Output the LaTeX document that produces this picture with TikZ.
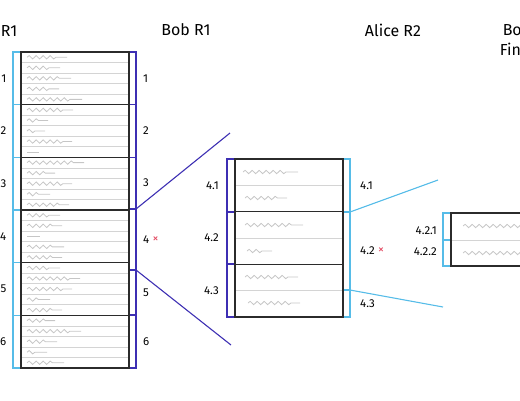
\documentclass[tikz,border=0pt]{standalone}
\usepackage{fontspec}
\setmainfont{Fira Sans}
\usetikzlibrary{positioning, decorations.pathmorphing}

\definecolor{alicecol}{HTML}{56BCE8}
\definecolor{bobcol}{HTML}{3D2FB3}
\definecolor{inkcol}{HTML}{2B2B2B}
\definecolor{rulecol}{HTML}{D4D4D4}
\definecolor{scribcol}{HTML}{C6C6C6}
\definecolor{crosscol}{HTML}{E2475F}

\tikzset{
  chunkbox/.style={draw=inkcol, line width=1.15pt},
  subrule/.style={draw=rulecol, line width=0.7pt},
  scribble/.style={draw=scribcol, line width=0.8pt, decorate,
    decoration={snake, segment length=7bp, amplitude=1.7bp, post length=9bp}},
  alicebar/.style={draw=alicecol, line width=1.1pt},
  bobbar/.style={draw=bobcol, line width=1.1pt},
  title/.style={font=\fontsize{16}{20}\selectfont, inner sep=0pt},
  num/.style={font=\fontsize{11.5}{14}\selectfont, inner sep=0pt},
  cross/.style={text=crosscol, font=\fontsize{12}{14}\selectfont, inner sep=0pt},
}

\begin{document}
\begin{tikzpicture}[x=1bp, y=-1bp]
    \useasboundingbox (0,0) rectangle (520,400);
    \def\rh{52.67} % height of one chunk
    \def\sh{10.53} % height of one line inside a chunk
    \def\ax{21}    % left edge of the big stack
    \def\bx{129}   % right edge of the big stack
    \def\ty{52}    % top of the big stack
    \def\mx{235}   % left edge of chunk 4
    \def\nx{343}   % right edge of chunk 4
    \def\my{159}   % top of chunk 4

    % Titles
    \node[title, anchor=east] (aliceone) at (17.5,30) {Alice R1};
    \node[title] (bobone) at (186,30) {Bob R1};
    \node[title] (alicetwo) at (393,30) {Alice R2};
    \node[title, align=center] (bobfinal) at (517,40) {Bob\\Final};

    % Big stack: Alice's cuts on the left
    \foreach \i [evaluate=\i as \n using int(\i+1)] in {0,...,5} {
        \draw[alicebar] (13, \ty + \i*\rh) rectangle (\ax, \ty + \i*\rh + \rh);
        \node[num, anchor=east] (a\n) at (6.5, \ty + \i*\rh + \rh/2) {\n};
    }
    % Big stack: Bob's cuts on the right (4 and 5 meet lower down)
    \foreach \p/\q/\n in {52/104.67/1, 104.67/157.33/2, 157.33/209/3, 209/270/4, 270/315/5, 315/368/6} {
        \draw[bobbar] (\bx, \p) rectangle (136, \q);
        \node[num, anchor=west] (b\n) at (143, {(\p+\q)/2}) {\n};
    }
    \node[cross, right=3bp of b4] (bx4) {×};

    % Lines and scribbles of the big stack
    \foreach \i in {0,...,5}
        \foreach \j in {1,...,4}
            \draw[subrule] (\ax, \ty + \i*\rh + \j*\sh) -- (\bx, \ty + \i*\rh + \j*\sh);
    \foreach \i/\lens in {0/{40,33,44,32,55}, 1/{46,21,18,45,12}, 2/{57,28,45,23,42},
                          3/{33,35,13,37,35}, 4/{33,53,45,23,35}, 5/{28,54,30,20,37}}
        \foreach \l [count=\j from 0] in \lens
            \draw[scribble] (27, \ty + \i*\rh + \j*\sh + \sh/2) -- ++(\l, 0);
    \foreach \i in {0,...,5}
        \draw[chunkbox] (\ax, \ty + \i*\rh) rectangle (\bx, \ty + \i*\rh + \rh);

    % Chunk 4 split by Bob (left) and Alice (right)
    \foreach \p/\q/\n in {159/212/1, 212/264/2, 264/317/3} {
        \draw[bobbar] (227, \p) rectangle (\mx, \q);
        \node[num, anchor=east] (c\n) at (219, {(\p+\q)/2}) {4.\n};
    }
    \foreach \p/\q/\n in {159/212/1, 212/290/2, 290/317/3} {
        \draw[alicebar] (\nx, \p) rectangle (350, \q);
        \node[num, anchor=west] (d\n) at (360, {(\p+\q)/2}) {4.\n};
    }
    \node[cross, right=3bp of d2] (dx2) {×};
    \foreach \i in {0,1,2}
        \draw[subrule] (\mx, \my + \i*\rh + \rh/2) -- (\nx, \my + \i*\rh + \rh/2);
    \foreach \x/\y/\l in {243/172/55, 245/198/42, 245/225/58, 247/251/25, 245/277/53, 248/303/52}
        \draw[scribble] (\x, \y) -- ++(\l, 0);
    \foreach \i in {0,1,2}
        \draw[chunkbox] (\mx, \my + \i*\rh) rectangle (\nx, \my + \i*\rh + \rh);

    % Chunk 4.2 split again
    \draw[alicebar] (443, 213) rectangle (451, 240);
    \draw[alicebar] (443, 240) rectangle (451, 266);
    \node[num, anchor=east] (e1) at (437, 231) {4.2.1};
    \node[num, anchor=east] (e2) at (437, 252) {4.2.2};
    \draw[subrule] (451, 240) -- (530, 240);
    \draw[scribble] (463, 226) -- ++(70, 0);
    \draw[scribble] (463, 253) -- ++(70, 0);
    \draw[chunkbox] (451, 213) rectangle (530, 266);

    % Zoom lines
    \coordinate (bobtop) at (136, 209);
    \coordinate (bobbot) at (136, 270);
    \coordinate (zoomtop) at (230, 133);
    \coordinate (zoombot) at (231, 345);
    \draw[bobbar] (bobtop) -- (zoomtop);
    \draw[bobbar] (bobbot) -- (zoombot);
    \coordinate (alicetop) at (350, 212);
    \coordinate (alicebot) at (350, 290);
    \coordinate (endtop) at (438, 180);
    \coordinate (endbot) at (443, 307);
    \draw[alicebar] (alicetop) -- (endtop);
    \draw[alicebar] (alicebot) -- (endbot);
\end{tikzpicture}
\end{document}
